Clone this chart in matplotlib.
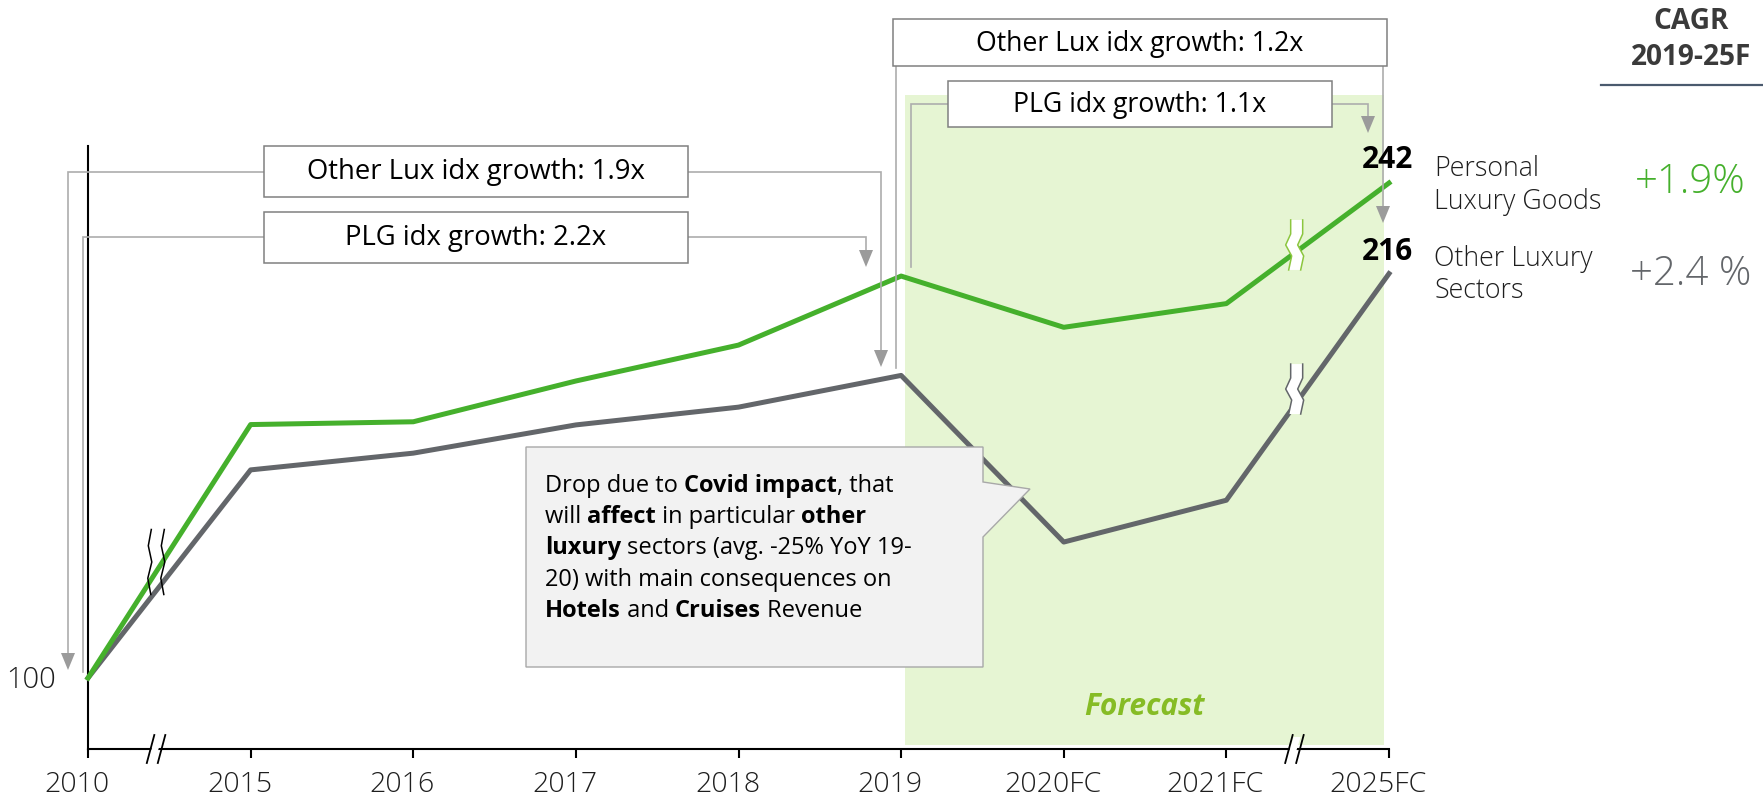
import matplotlib
matplotlib.use('Agg')
import matplotlib.pyplot as plt
import matplotlib.transforms as mtransforms
from matplotlib.patches import Polygon, Rectangle
import numpy as np

# ---------------- data ----------------
categories = ['2010', '2015', '2016', '2017', '2018', '2019', '2020FC', '2021FC', '2025FC']
plg_index = [100, 172.7, 173.5, 185.2, 195.5, 215.3, 200.6, 207.4, 242]
other_lux_index = [100, 159.7, 164.5, 172.6, 177.7, 186.8, 139.0, 151.0, 216]
series_names = ['Personal\nLuxury Goods', 'Other Luxury\nSectors']
end_labels = ['242', '216']
cagr_labels = ['+1.9%', '+2.4 %']
cagr_title = 'CAGR\n2019-25F'
growth_labels = ['Other Lux idx growth: 1.9x', 'PLG idx growth: 2.2x',
                 'Other Lux idx growth: 1.2x', 'PLG idx growth: 1.1x']
base_label = '100'
forecast_label = 'Forecast'
callout_lines = [
    [('Drop due to ', False), ('Covid impact', True), (', that', False)],
    [('will ', False), ('affect', True), (' in particular ', False), ('other', True)],
    [('luxury', True), (' sectors (avg. -25% YoY 19-', False)],
    [('20) with main consequences on', False)],
    [('Hotels', True), (' and ', False), ('Cruises', True), (' Revenue', False)],
]

# ---------------- style ----------------
GREEN = '#45B02C'
GRAY = '#63666A'
SHADE = '#E6F5D3'
LIME = '#86BC25'
TXT = '#1E1E1E'
BOXEDGE = '#808080'
CONN = '#ADADAD'
ARROW = '#9B9B9B'

plt.rcParams['font.family'] = ['Open Sans', 'DejaVu Sans']

W, H, DPI = 1763, 798, 100
fig = plt.figure(figsize=(W / DPI, H / DPI), dpi=DPI)

L, R, T, B = 88, 1389, 146, 749
ax = fig.add_axes([L / W, 1 - B / H, (R - L) / W, (B - T) / H])
ax.patch.set_visible(False)
x = np.arange(len(categories))
ppu = 3.486
y0 = 100 - (B - 678) / ppu
y1 = y0 + (B - T) / ppu
ax.set_xlim(0, len(categories) - 1)
ax.set_ylim(y0, y1)

for s in ['top', 'right']:
    ax.spines[s].set_visible(False)
for s in ['left', 'bottom']:
    ax.spines[s].set_color('black')
    ax.spines[s].set_linewidth(1.5)
ax.set_yticks([])
ax.set_xticks(x)
ax.set_xticklabels(categories, fontsize=20.5, color=TXT, fontweight='light')
ax.tick_params(axis='x', length=6.5, width=1.5, color='black', pad=9.5)
shift = mtransforms.ScaledTranslation(-11 / DPI, 0, fig.dpi_scale_trans)
for lab in ax.get_xticklabels():
    lab.set_transform(lab.get_transform() + shift)

def xd(px):
    return (px - L) / ((R - L) / (len(categories) - 1))

def yd(py):
    return y0 + (B - py) / ppu

# forecast shading
ax.add_patch(Rectangle((xd(905), yd(745)), xd(1384) - xd(905), yd(95) - yd(745),
                       facecolor=SHADE, edgecolor='none', zorder=0, clip_on=False))
ax.text(xd(1144), yd(707), forecast_label, color=LIME, fontsize=21.5, fontweight='bold',
        fontstyle='italic', ha='center', va='center', zorder=1)

# series
ax.plot(x, other_lux_index, color=GRAY, lw=3.6, zorder=3, clip_on=False)
ax.plot(x, plg_index, color=GREEN, lw=3.6, zorder=4, clip_on=False)

# ---------------- overlay in pixel coords ----------------
ov = fig.add_axes([0, 0, 1, 1], zorder=5)
ov.set_xlim(0, W)
ov.set_ylim(H, 0)
ov.axis('off')

def to_px(xi, yv):
    dx, dy = ax.transData.transform((xi, yv))
    return dx, H - dy

def conn(points, arrow=False):
    pts = list(points)
    if arrow:
        xe, ye = pts[-1]
        pts[-1] = (xe, ye - 16)
        ov.add_patch(Polygon([(xe - 7, ye - 17), (xe + 7, ye - 17), (xe, ye)],
                             closed=True, facecolor=ARROW, edgecolor='none', zorder=2))
    xs, ys = zip(*pts)
    ov.plot(xs, ys, color=CONN, lw=1.2, zorder=1, solid_joinstyle='miter')

def box(x0, y0_, x1, y1_, text, size=19.5):
    ov.add_patch(Rectangle((x0, y0_), x1 - x0, y1_ - y0_, facecolor='white',
                           edgecolor=BOXEDGE, lw=1.1, zorder=3))
    ov.text((x0 + x1) / 2, (y0_ + y1_) / 2 + 1, text, fontsize=size, color='black',
            ha='center', va='center', zorder=4)

# left growth boxes
box(264, 146, 688, 197, growth_labels[0], 19.8)
box(264, 212, 688, 263, growth_labels[1], 19.8)
conn([(264, 172), (68, 172), (68, 670)], arrow=True)
conn([(688, 172), (881, 172), (881, 367)], arrow=True)
conn([(264, 237), (83, 237), (83, 672)])
conn([(688, 237), (866, 237), (866, 267)], arrow=True)

# right growth boxes
box(893, 19, 1387, 66, growth_labels[2], 19.2)
box(948, 81, 1332, 127, growth_labels[3], 19.2)
conn([(896, 66), (896, 368)])
conn([(1383, 66), (1383, 223)], arrow=True)
conn([(948, 104), (911, 104), (911, 267)])
conn([(1332, 104), (1368, 104), (1368, 133)], arrow=True)

# base label
ov.text(56, 680, base_label, fontsize=21, color=TXT, ha='right', va='center', fontweight='light')

# end values and names
ov.text(1362, 168, end_labels[0], fontsize=21.5, fontweight='bold', color='black', ha='left', va='baseline')
ov.text(1362, 260, end_labels[1], fontsize=21.5, fontweight='bold', color='black', ha='left', va='baseline')
for i, (nm, yb) in enumerate(zip(series_names, [176, 266])):
    for j, ln in enumerate(nm.split('\n')):
        ov.text(1434, yb + j * 32.5, ln, fontsize=19.3, color=TXT, fontweight='light',
                ha='left', va='baseline')
ov.text(1690, 193, cagr_labels[0], fontsize=29, color=GREEN, fontweight='light', ha='center', va='baseline')
ov.text(1691, 285, cagr_labels[1], fontsize=29, color=GRAY, fontweight='light', ha='center', va='baseline')
for j, ln in enumerate(cagr_title.split('\n')):
    ov.text(1691, 29 + j * 36, ln, fontsize=20.2, color='#3A3A3A', fontweight='bold',
            ha='center', va='baseline')
ov.plot([1601, 1763], [85, 85], color='#4A5A6E', lw=1.6)

# callout
ov.add_patch(Polygon([(526, 447), (983, 447), (983, 482), (1030, 489), (983, 537),
                      (983, 667), (526, 667)], closed=True, facecolor='#F2F2F2',
                     edgecolor='#A8A8A8', lw=1.0, zorder=3))
fig.canvas.draw()
rend = fig.canvas.get_renderer()

def tw(s, size, weight):
    t = ov.text(0, 0, s, fontsize=size, fontweight=weight)
    w = t.get_window_extent(renderer=rend).width
    t.remove()
    return w

def adv(s, size, weight):
    return tw('|' + s + '|', size, weight) - tw('||', size, weight)

CS = 17
for k, segs in enumerate(callout_lines):
    cx = 545
    yb = 492 + k * 31.25
    for s, bold in segs:
        wgt = 'bold' if bold else 'normal'
        ov.text(cx, yb, s, fontsize=CS, fontweight=wgt, color='black', ha='left',
                va='baseline', zorder=4)
        cx += adv(s, CS, wgt)

# line breaks on series (2010-2015 segment): two black wavy lines
def wavy(cx, cy, h, dx_list, fy_list):
    return [(cx + d, cy + f * h) for d, f in zip(dx_list, fy_list)]

DX = [1.5, -1.5, 2, -2, 1]
FY = [-0.5, -0.25, 0.0, 0.25, 0.5]
bx, _ = to_px(0.42, 100)
for off in (-6.5, 6.5):
    pts = wavy(bx + off, 562, 65, DX, FY)
    xs, ys = zip(*pts)
    ov.plot(xs, ys, color='black', lw=1.1, zorder=6)

# line breaks on last segment: white zigzag bands with coloured edges
DX2 = [2, 2, -3, 3, 0]
FY2 = [-0.5, -0.22, 0.0, 0.22, 0.5]
for vals, col, dy in [(plg_index, '#8CC63F', -8), (other_lux_index, GRAY, -16)]:
    t = 0.42
    yv = vals[7] + t * (vals[8] - vals[7])
    px, py = to_px(7 + t, yv)
    left = wavy(px - 6, py + dy, 50, DX2, FY2)
    right = wavy(px + 6, py + dy, 50, DX2, FY2)
    ov.add_patch(Polygon(left + right[::-1], closed=True, facecolor='white',
                         edgecolor='none', zorder=6))
    for e in (left, right):
        xs, ys = zip(*e)
        ov.plot(xs, ys, color=col, lw=1.1, zorder=7)

# x-axis breaks "//"
for xi in (0.42, 7.42):
    px, py = to_px(xi, y0)
    ov.add_patch(Polygon([(px - 8, py + 10), (px - 1, py - 12), (px + 6, py - 12), (px - 1, py + 10)],
                         closed=True, facecolor='white', edgecolor='none', zorder=6))
    for off in (-5.5, 5.5):
        ov.plot([px + off - 4, px + off + 3.5], [py + 14, py - 14], color='black', lw=1.3, zorder=7)

fig.savefig('out.png', dpi=DPI)
